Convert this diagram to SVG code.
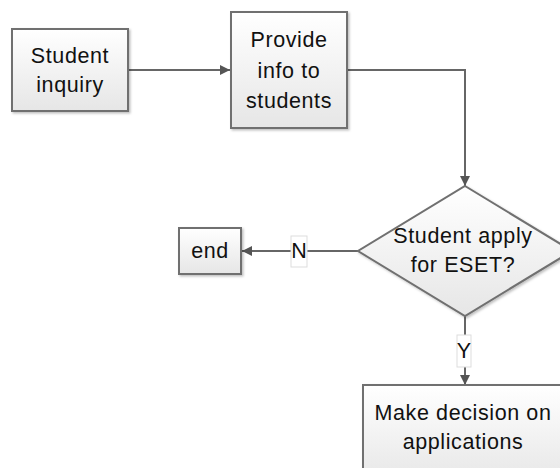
<svg xmlns="http://www.w3.org/2000/svg" width="560" height="468" viewBox="0 0 560 468">
<defs>
<linearGradient id="g" x1="0" y1="0" x2="0" y2="1">
<stop offset="0" stop-color="#ffffff"/>
<stop offset="1" stop-color="#e6e6e6"/>
</linearGradient>
<marker id="arr" viewBox="0 0 10 10" refX="10" refY="5" markerWidth="10" markerHeight="10" markerUnits="userSpaceOnUse" orient="auto">
<path d="M0,0 L10,5 L0,10 z" fill="#555"/>
</marker>
<filter id="sh" x="-10%" y="-10%" width="130%" height="130%">
<feDropShadow dx="1.5" dy="1.5" stdDeviation="1" flood-color="#000" flood-opacity="0.25"/>
</filter>
</defs>
<style>
.n{fill:url(#g);stroke:#707070;stroke-width:2;filter:url(#sh)}
.t{font-family:"Liberation Sans",Arial,sans-serif;font-size:21.5px;fill:#111;text-anchor:middle;letter-spacing:0.6px}
.c{fill:none;stroke:#666;stroke-width:2}
.lb{fill:#fff;stroke:#ddd;stroke-width:1}
</style>
<rect width="560" height="468" fill="#fff"/>
<g id="connectors">
<path class="c" d="M128,70 L230,70" marker-end="url(#arr)"/>
<path class="c" d="M347,70 L465,70 L465,186" marker-end="url(#arr)"/>
<path class="c" d="M358,251 L242,251" marker-end="url(#arr)"/>
<path class="c" d="M465,316 L465,385" marker-end="url(#arr)"/>
<rect class="lb" x="291" y="236" width="16" height="31"/>
<text class="t" x="299" y="258" style="letter-spacing:0">N</text>
<rect class="lb" x="457" y="335" width="14" height="32"/>
<text class="t" x="464" y="358" style="letter-spacing:0">Y</text>
</g>
<g id="student-inquiry">
<rect class="n" x="12" y="29" width="116" height="82"/>
<text class="t" x="70" y="63">Student</text>
<text class="t" x="70" y="92">inquiry</text>
</g>
<g id="provide-info">
<rect class="n" x="231" y="12" width="116" height="116"/>
<text class="t" x="289" y="47">Provide</text>
<text class="t" x="289" y="78">info to</text>
<text class="t" x="289" y="108">students</text>
</g>
<g id="decision">
<path class="n" d="M465,186 L572,251 L465,316 L358,251 Z"/>
<text class="t" x="463" y="243">Student apply</text>
<text class="t" x="463" y="272">for ESET?</text>
</g>
<g id="end">
<rect class="n" x="179" y="228" width="62" height="46"/>
<text class="t" x="210" y="258">end</text>
</g>
<g id="make-decision">
<rect class="n" x="363" y="385" width="204" height="100"/>
<text class="t" x="463" y="420">Make decision on</text>
<text class="t" x="463" y="449">applications</text>
</g>
</svg>
